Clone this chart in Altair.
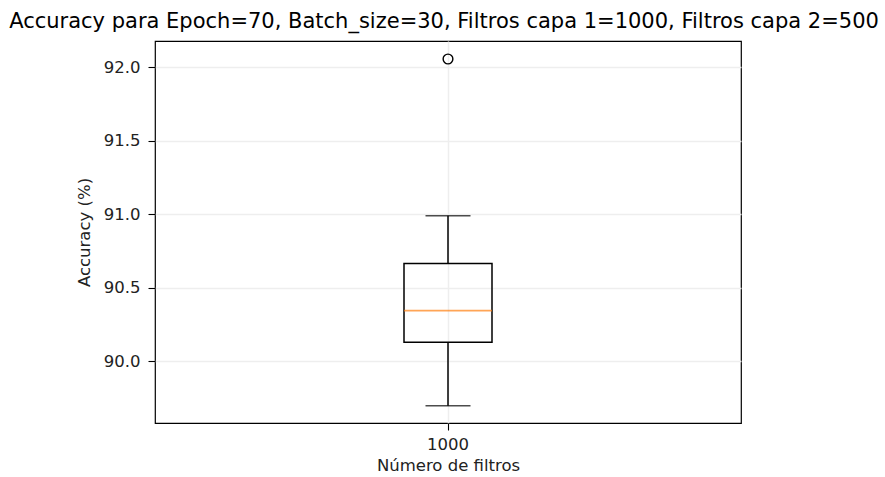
import altair as alt
import pandas as pd

# Box-plot summary of the accuracy runs (percent)
categories = ["1000"]
whisker_low = [89.70]
q1 = [90.13]
median = [90.345]
q3 = [90.665]
whisker_high = [90.99]
outlier_cat = ["1000"]
outlier_val = [92.055]

stats = pd.DataFrame({
    "filtros": categories,
    "lo": whisker_low,
    "q1": q1,
    "med": median,
    "q3": q3,
    "hi": whisker_high,
})
outliers = pd.DataFrame({"filtros": outlier_cat, "acc": outlier_val})

FONT = "DejaVu Sans"
y_scale = alt.Scale(domain=[89.582, 92.177], nice=False, zero=False)

x_enc = alt.X(
    "filtros:N",
    title="Número de filtros",
    scale=alt.Scale(paddingInner=0, paddingOuter=0),
    axis=alt.Axis(labelAngle=0, bandPosition=0.5, labelPadding=6, titlePadding=5),
)

base = alt.Chart(stats).encode(x=x_enc)

box = base.mark_bar(
    size=88, fill="white", fillOpacity=0, stroke="black", strokeWidth=1.5
).encode(
    y=alt.Y("q1:Q", scale=y_scale, title="Accuracy (%)",
            axis=alt.Axis(values=[90.0, 90.5, 91.0, 91.5, 92.0], format=".1f",
                          labelPadding=8, titlePadding=11)),
    y2="q3:Q",
)

lower_whisker = base.mark_rule(color="black", strokeWidth=1.5).encode(
    y=alt.Y("lo:Q", scale=y_scale), y2="q1:Q"
)
upper_whisker = base.mark_rule(color="black", strokeWidth=1.5).encode(
    y=alt.Y("q3:Q", scale=y_scale), y2="hi:Q"
)
low_cap = base.mark_tick(size=45, thickness=1.5, color="black").encode(
    y=alt.Y("lo:Q", scale=y_scale)
)
high_cap = base.mark_tick(size=45, thickness=1.5, color="black").encode(
    y=alt.Y("hi:Q", scale=y_scale)
)
median_line = base.mark_tick(size=88, thickness=1.7, color="#ff7f0e").encode(
    y=alt.Y("med:Q", scale=y_scale)
)

fliers = alt.Chart(outliers).mark_point(
    shape="circle", size=95, filled=False, color="black", strokeWidth=1.4, opacity=1
).encode(
    x=x_enc,
    y=alt.Y("acc:Q", scale=y_scale),
)

chart = alt.layer(
    box, lower_whisker, upper_whisker, low_cap, high_cap, median_line, fliers
).properties(
    width=586,
    height=382,
    autosize=alt.AutoSizeParams(type="none"),
    padding={"left": 155, "top": 41, "right": 144, "bottom": 54},
    title=alt.TitleParams(
        "Accuracy para Epoch=70, Batch_size=30, Filtros capa 1=1000, Filtros capa 2=500",
        font=FONT, fontSize=21, fontWeight="normal", color="black",
        anchor="middle", offset=9, dx=-4,
    ),
).configure(
    background="white"
).configure_view(
    stroke="black", strokeWidth=1.2
).configure_axis(
    domain=False,
    grid=True,
    gridColor="#eeeeee",
    gridWidth=1.5,
    tickColor="black",
    tickSize=7,
    tickWidth=1.1,
    labelFont=FONT,
    labelFontSize=16.5,
    labelColor="#222222",
    titleFont=FONT,
    titleFontSize=16.5,
    titleFontWeight="normal",
    titleColor="#222222",
)

chart.save("out.html", embed_options={"renderer": "svg", "actions": False})
